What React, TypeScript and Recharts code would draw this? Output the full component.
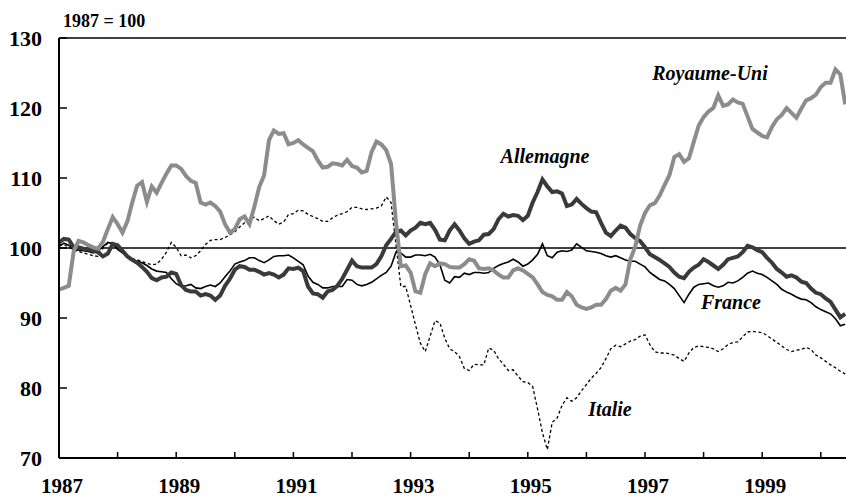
import React from "react";
import { LineChart, Line, XAxis, YAxis, ReferenceLine } from "recharts";

// monthly index values, Jan 1987 .. Jun 2000 (1987 = 100)
const startYear = 1987;

const royaumeUni = [
  94.1, 94.3, 94.6, 99.5, 101, 100.8, 100.4, 100.1, 99.9, 100.9, 102.7, 104.4,
  103.4, 102.2, 103.8, 106.5, 108.9, 109.4, 106.6, 108.8, 107.9, 109.3, 110.6, 111.8,
  111.8, 111.3, 110.3, 109.6, 109.3, 106.5, 106.2, 106.5, 106.0, 105.2, 103.4, 102.2,
  102.7, 104.1, 104.5, 103.4, 105.9, 108.7, 110.4, 115.4, 116.8, 116.3, 116.4, 114.8,
  115, 115.4, 114.8, 114.3, 113.8, 112.5, 111.5, 111.6, 112.1, 112, 111.8, 112.6,
  111.7, 111.5, 110.8, 111, 113.7, 115.2, 114.8, 114, 112, 103.7, 97.4, 97.5,
  96.5, 93.8, 93.6, 96.3, 97.8, 97.4, 97.8, 97.7, 97.3, 97.2, 97.2, 97.7,
  98.4, 98.2, 97.1, 97, 97.1, 96.8, 96.2, 95.8, 95.8, 96.8, 97.1, 96.8,
  96.3, 95.8, 94.8, 93.7, 93.3, 93.1, 92.6, 92.6, 93.7, 93.1, 91.9, 91.5,
  91.3, 91.5, 91.9, 91.9, 92.7, 93.9, 94.3, 93.9, 94.8, 98.4, 100.2, 103.2,
  105, 106.1, 106.4, 107.5, 109, 110.4, 113, 113.4, 112.3, 112.8, 115.2, 117.5,
  118.7, 119.5, 120, 121.8, 120.3, 120.5, 121.2, 120.8, 120.6, 118.8, 117, 116.5,
  116, 115.8, 117.3, 118.4, 119, 120, 119.3, 118.6, 119.9, 121.1, 121.4, 121.9,
  123, 123.6, 123.6, 125.5, 124.8, 120.5,
];

const allemagne = [
  100.8, 101.3, 101.2, 100.1, 100.1, 99.9, 99.8, 99.6, 99.4, 98.8, 99.2, 100.6,
  100.4, 99.6, 98.8, 98.3, 97.9, 97.3, 96.6, 95.7, 95.4, 95.8, 95.9, 96.5,
  96.3, 94.7, 94, 93.8, 93.8, 93.2, 93.4, 93.2, 92.6, 93.2, 94.6, 95.6,
  96.9, 97.4, 97.3, 96.9, 96.9, 96.6, 96.2, 96.4, 96.2, 95.8, 96.2, 97.1,
  97, 97.2, 96.7, 94.5, 93.5, 93.4, 92.9, 93.8, 94, 94.6, 95.6, 96.9,
  98.2, 97.4, 97.2, 97.2, 97.2, 97.7, 98.8, 100.4, 101.3, 102.3, 102.5, 101.8,
  102.5, 102.9, 103.6, 103.4, 103.6, 102.6, 101.2, 101.1, 102.5, 103.4, 102.5, 101.4,
  100.6, 100.9, 101.1, 101.9, 102, 102.7, 104.1, 104.9, 104.5, 104.7, 104.6, 104,
  104.6, 106.5, 108, 109.8, 108.8, 108, 108.1, 107.8, 106, 106.2, 107, 106.3,
  105.7, 105.2, 105.1, 103.6, 102.2, 101.7, 102.5, 103.2, 102.9, 102, 101.4, 101,
  100.1, 99.1, 98.7, 98.3, 97.8, 97.3, 96.5, 95.9, 95.7, 96.6, 97.2, 97.6,
  98.4, 98, 97.5, 97, 97.6, 98.4, 98.6, 98.8, 99.4, 100.3, 100.1, 99.7,
  99.4, 98.6, 97.9, 97, 96.5, 95.9, 96.1, 95.8, 95.2, 95, 94.2, 93.6,
  93.4, 92.8, 92.3, 91.2, 90.1, 90.6,
];

const france = [
  100.2, 100.7, 100.4, 99.8, 99.7, 99.6, 99.5, 99.3, 99.6, 100.2, 100.8, 100.6,
  99.8, 99.3, 98.8, 98.3, 98.1, 97.9, 97.5, 97, 96.7, 96.6, 96.5, 95.6,
  94.9, 94.5, 94.6, 94.8, 94.3, 94.2, 94.5, 94.7, 94.5, 95, 95.9, 96.7,
  97.7, 98, 98.2, 98.6, 98.6, 98.2, 97.9, 98.3, 98.8, 98.9, 98.9, 99,
  98.6, 98.1, 97.6, 96, 95.1, 94.8, 94.3, 94.3, 94.5, 94.5, 94.5, 95.5,
  95.4, 94.8, 94.6, 94.8, 95.1, 95.6, 96.1, 96.5, 97.4, 99.4, 99.3, 98.7,
  98.7, 99, 99, 98.9, 99.1, 98.7, 97.6, 95.4, 95, 95.9, 95.8, 96.4,
  96.2, 96.5, 96.5, 96.4, 96.5, 97.1, 97.5, 97.8, 98, 98.4, 98, 97.4,
  97.7, 98.3, 99.1, 100.6, 98.9, 98.6, 99.4, 99.6, 99.5, 99.7, 100.6, 100.1,
  99.6, 99.5, 99.4, 99.2, 98.9, 98.7, 98.9, 98.6, 98.3, 98.1, 98.1, 97.7,
  97.3, 96.5, 96, 95.5, 95.3, 94.8, 94.2, 93.2, 92.2, 93.4, 94.4, 94.8,
  94.9, 95, 94.6, 94.4, 94.6, 95.1, 95, 95.3, 95.8, 96.4, 96.7, 96.4,
  96.2, 95.8, 95.3, 94.8, 94.1, 93.7, 93.4, 93, 92.7, 92.6, 92.2, 91.6,
  91.2, 90.9, 90.6, 89.9, 88.9, 89.1,
];

const italie = [
  100.5, 100.5, 100.1, 99.7, 99.5, 99.3, 99.1, 98.9, 98.8, 100, 100.7, 100.7,
  100, 99.3, 98.8, 98.5, 98.3, 98.1, 97.8, 97.6, 97.7, 98.4, 99.4, 100.8,
  100.1, 98.9, 99, 98.6, 98.9, 99.6, 100.5, 101.1, 101.2, 101.2, 101.5, 101.9,
  102.3, 103, 103.6, 104.1, 104.4, 103.9, 104.2, 104.6, 103.9, 103.4, 103.7, 104.8,
  104.9, 105.4, 105.3, 104.8, 104.5, 104.2, 103.8, 103.8, 104.3, 104.7, 104.9, 105.2,
  105.8, 105.8, 105.6, 105.5, 105.6, 105.7, 106, 107.3, 106.5, 100.5, 94.5, 94.5,
  91.8, 89, 86.4, 85.2, 87.4, 89.6, 89.3, 87.1, 85.6, 85.2, 84.5, 82.8,
  82.5, 83.4, 83.3, 83.3, 85.7, 85.4, 84.2, 83.4, 82.5, 82.6, 81.7, 80.9,
  80.8, 80.2, 77, 73.6, 71.2, 75.1, 75.7, 77.5, 78.6, 78.1, 78.6, 79.6,
  80.5, 81.4, 82.1, 82.9, 84.2, 85.6, 86.1, 85.9, 86.3, 86.7, 86.9, 87.4,
  87.6, 86.2, 85.2, 85, 85, 84.9, 84.7, 84.2, 83.8, 85, 85.8, 86,
  85.9, 85.8, 85.6, 85.2, 85.6, 86.2, 86.5, 86.6, 87.3, 88, 88.1, 88,
  87.9, 87.5, 87, 86.5, 86, 85.5, 85.2, 85.4, 85.5, 85.8, 85.5, 84.7,
  84.3, 83.8, 83.3, 82.9, 82.4, 82,
];

const yearTicks = [1987, 1988, 1989, 1990, 1991, 1992, 1993, 1994, 1995, 1996, 1997, 1998, 1999, 2000];
const valueTicks = [70, 80, 90, 100, 110, 120, 130];

const data = royaumeUni.map((v, i) => ({
  t: startYear + i / 12,
  uk: v,
  de: allemagne[i],
  fr: france[i],
  it: italie[i],
}));

const serif = "'Liberation Serif', 'DejaVu Serif', serif";

const XTick = (props: any) => {
  const { x, y, payload } = props;
  const year = payload.value;
  return (
    <g>
      <line x1={x} x2={x} y1={y} y2={y - 6} stroke="#000" strokeWidth={1.5} />
      {year % 2 === 1 && (
        <text x={x + 3} y={y + 35} textAnchor="middle" fontFamily={serif} fontWeight="bold" fontSize={21} fill="#000">
          {year}
        </text>
      )}
    </g>
  );
};

const YTick = (props: any) => {
  const { x, y, payload } = props;
  return (
    <g>
      <line x1={x} x2={x + 8} y1={y} y2={y} stroke="#000" strokeWidth={1.5} />
      <text x={x - 17} y={y + 8} textAnchor="end" fontFamily={serif} fontWeight="bold" fontSize={22} fill="#000">
        {payload.value}
      </text>
    </g>
  );
};

const labelStyle = { fontFamily: serif, fontStyle: "italic", fontWeight: "bold", fontSize: 20 } as const;

export default function App() {
  return (
    <div style={{ position: "absolute", left: 0, top: 0, width: 846, height: 499, background: "#fff" }}>
      <LineChart width={846} height={499} data={data} margin={{ top: 38, right: 0, bottom: 0, left: 0 }}>
        <XAxis
          dataKey="t"
          type="number"
          domain={[1987, 2000.43]}
          ticks={yearTicks}
          interval={0}
          height={41}
          tickSize={0}
          tickMargin={0}
          tickLine={false}
          axisLine={{ stroke: "#000", strokeWidth: 2 }}
          tick={<XTick />}
        />
        <YAxis
          type="number"
          domain={[70, 130]}
          ticks={valueTicks}
          interval={0}
          width={59}
          tickSize={0}
          tickMargin={0}
          tickLine={false}
          axisLine={{ stroke: "#000", strokeWidth: 2 }}
          tick={<YTick />}
        />
        <ReferenceLine y={130} stroke="#000" strokeWidth={1.5} />
        <ReferenceLine y={100} stroke="#000" strokeWidth={1.5} />
        <Line dataKey="it" stroke="#000" strokeWidth={1.3} strokeDasharray="3 2.5" dot={false} isAnimationActive={false} />
        <Line dataKey="fr" stroke="#000" strokeWidth={1.6} dot={false} isAnimationActive={false} />
        <Line dataKey="de" stroke="#3a3a3a" strokeWidth={4} dot={false} isAnimationActive={false} />
        <Line dataKey="uk" stroke="#8c8c8c" strokeWidth={4} dot={false} isAnimationActive={false} />
      </LineChart>
      <svg width={846} height={499} style={{ position: "absolute", left: 0, top: 0, pointerEvents: "none" }}>
        <text x={63} y={27} fontFamily={serif} fontWeight="bold" fontSize={18} fill="#000">1987 = 100</text>
        <text x={710} y={80} textAnchor="middle" {...labelStyle}>Royaume-Uni</text>
        <text x={545} y={163} textAnchor="middle" {...labelStyle}>Allemagne</text>
        <text x={731} y={309} textAnchor="middle" {...labelStyle}>France</text>
        <text x={610} y={416} textAnchor="middle" {...labelStyle}>Italie</text>
      </svg>
    </div>
  );
}
